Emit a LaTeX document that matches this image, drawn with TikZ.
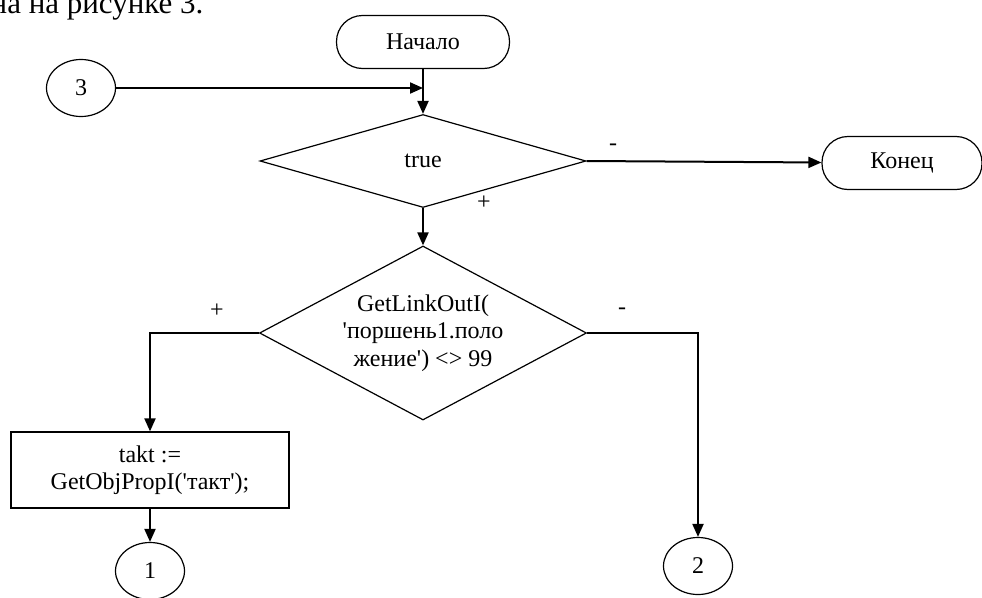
\documentclass[tikz,border=0pt]{standalone}
\usepackage{fontspec}
\setmainfont{Liberation Serif}
\usetikzlibrary{shapes.geometric,arrows.meta}

\newcommand\flowfont{\fontsize{24}{27.5}\selectfont}
\newcommand\capfont{\fontsize{31}{36}\selectfont}
\newcommand\sq{\textquotesingle}

\begin{document}
\begin{tikzpicture}[x=1pt, y=-1pt,
        >={Triangle[length=13pt, width=11pt]},
        flow/.style={line width=2pt},
        term/.style={draw, line width=1.2pt, rounded corners=26pt,
            minimum width=173pt, minimum height=53pt, font=\flowfont},
        cond/.style={draw, line width=1.2pt, diamond, inner sep=0pt,
            align=center, font=\flowfont},
        proc/.style={draw, line width=1.2pt, minimum width=278pt,
            minimum height=76pt, align=center, font=\flowfont},
        conn/.style={draw, line width=1.2pt, ellipse, minimum width=69pt,
            minimum height=57pt, font=\flowfont},
        sign/.style={font=\flowfont}]
        \useasboundingbox (0, 0) rectangle (982, 597);
        \clip (0, 0) rectangle (982, 597);
        \node[anchor=base east, font=\capfont] (Caption) at (207, 13) {на на рисунке 3.};
        \node[term] (Start) at (423, 42) {Начало};
        \node[conn] (C3) at (81, 88) {3};
        \coordinate (Join) at (423, 88);
        \node[cond, aspect=3.5, minimum width=326pt, minimum height=93pt] (True) at (423, 161) {true};
        \node[term, minimum width=160pt] (End) at (902, 163) {Конец};
        \node[cond, aspect=1.88, minimum width=327pt, minimum height=174pt] (Check) at (423, 333)
            {GetLinkOutI(\\\sq поршень1.поло\\жение\sq) <> 99};
        \node[proc] (Takt) at (150, 470) {takt :=\\GetObjPropI(\sq такт\sq);};
        \node[conn] (C1) at (150, 571) {1};
        \node[conn] (C2) at (698, 566) {2};
        \draw[flow, ->] (Start) -- (True);
        \draw[flow, ->] (C3) -- (Join);
        \draw[flow, ->] (True.east) -- (End);
        \draw[flow, ->] (True) -- (Check);
        \draw[flow, ->] (Check.west) -| (Takt.north);
        \draw[flow, ->] (Check.east) -| (C2.north);
        \draw[flow, ->] (Takt) -- (C1);
        \node[sign] (True Plus) at (484, 203) {+};
        \node[sign] (True Minus) at (613, 147) {-};
        \node[sign] (Check Plus) at (217, 311) {+};
        \node[sign] (Check Minus) at (622, 311) {-};
\end{tikzpicture}
\end{document}
